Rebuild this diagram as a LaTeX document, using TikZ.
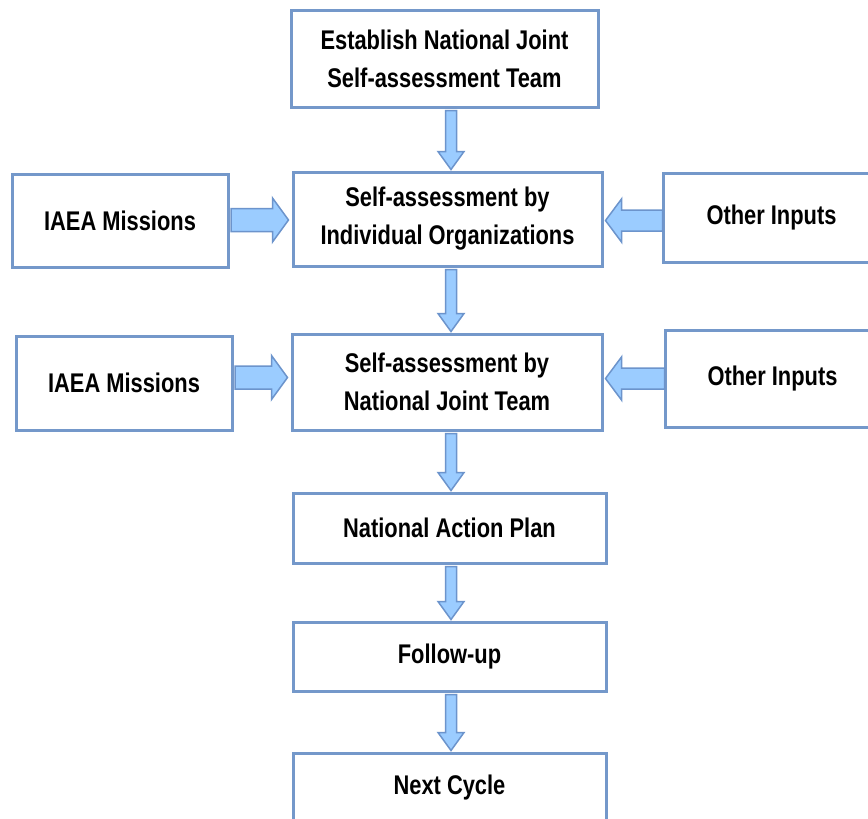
\documentclass[tikz,border=0pt]{standalone}
\usepackage{fontspec}
\setmainfont{Liberation Sans}[FakeStretch=0.81]
\usetikzlibrary{calc}
\definecolor{bordc}{RGB}{116,152,202}
\definecolor{arrfill}{RGB}{155,204,255}
\definecolor{arrline}{RGB}{108,148,204}
\tikzset{
  box/.style={draw=bordc, line width=3pt, fill=white, align=center, inner sep=0pt,
    font=\bfseries\fontsize{27}{38}\selectfont},
  blk/.style={draw=arrline, fill=arrfill, line width=1.5pt, line join=miter}
}
% vertical block arrow from node #1 (south) to node #2 (north) at x = 451
\newcommand\vblk[2]{%
  \draw[blk] let \p1=(#1.south), \p2=(#2.north) in
    (445.5pt,\y1-2pt) -- (456.5pt,\y1-2pt) -- (456.5pt,\y2+19pt) -- (464pt,\y2+19pt)
    -- (451pt,\y2+1pt) -- (438pt,\y2+19pt) -- (445.5pt,\y2+19pt) -- cycle;}
% right-pointing block arrow from node #1 (east) to node #2 (west) at pixel y #3
\newcommand\rblk[3]{%
  \draw[blk] let \p1=(#1.east), \p2=(#2.west) in
    (\x1+1.5pt,-#3pt+11.5pt) -- (\x2-19pt,-#3pt+11.5pt) -- (\x2-19pt,-#3pt+22pt)
    -- (\x2-3pt,-#3pt) -- (\x2-19pt,-#3pt-22pt) -- (\x2-19pt,-#3pt-11.5pt)
    -- (\x1+1.5pt,-#3pt-11.5pt) -- cycle;}
% left-pointing block arrow from node #1 (west) to node #2 (east) at pixel y #3
\newcommand\lblk[3]{%
  \draw[blk] let \p1=(#1.west), \p2=(#2.east) in
    (\x1+1pt,-#3pt+10.5pt) -- (\x2+18pt,-#3pt+10.5pt) -- (\x2+18pt,-#3pt+21.5pt)
    -- (\x2+2pt,-#3pt) -- (\x2+18pt,-#3pt-21.5pt) -- (\x2+18pt,-#3pt-10.5pt)
    -- (\x1+1pt,-#3pt-10.5pt) -- cycle;}
\begin{document}
\begin{tikzpicture}[x=1pt,y=-1pt]
\useasboundingbox (0,0) rectangle (868,819);
\clip (0,0) rectangle (868,819);
\fill[white] (0,0) rectangle (868,819);

\node[box, minimum width=307, minimum height=97] (est) at (444.5,58.5)
  {Establish National Joint\\Self-assessment Team};
\node[box, minimum width=309, minimum height=94] (ind) at (447.5,219)
  {Self-assessment by\\Individual Organizations};
\node[box, minimum width=310, minimum height=96] (nat) at (447,382)
  {Self-assessment by\\National Joint Team};
\node[box, minimum width=313, minimum height=70] (nap) at (449.5,528)
  {National Action Plan};
\node[box, minimum width=313, minimum height=69] (fol) at (449.5,656.5)
  {\raisebox{-2pt}{Follow-up}};
\node[box, minimum width=313, minimum height=70] (nxt) at (449.5,788)
  {Next Cycle};

\node[box, minimum width=216, minimum height=93] (iaea1) at (120,220.5)
  {IAEA Missions};
\node[box, minimum width=216, minimum height=94] (iaea2) at (124,383)
  {IAEA Missions};
\node[box, minimum width=217, minimum height=89] (oth1) at (771.5,217.5)
  {\raisebox{-3pt}{Other Inputs}};
\node[box, minimum width=215, minimum height=97] (oth2) at (772.5,378.5)
  {\raisebox{-3pt}{Other Inputs}};

\vblk{est}{ind}
\vblk{ind}{nat}
\vblk{nat}{nap}
\vblk{nap}{fol}
\vblk{fol}{nxt}

\rblk{iaea1}{ind}{220}
\rblk{iaea2}{nat}{377.5}
\lblk{oth1}{ind}{220.5}
\lblk{oth2}{nat}{378.5}
\end{tikzpicture}
\end{document}
